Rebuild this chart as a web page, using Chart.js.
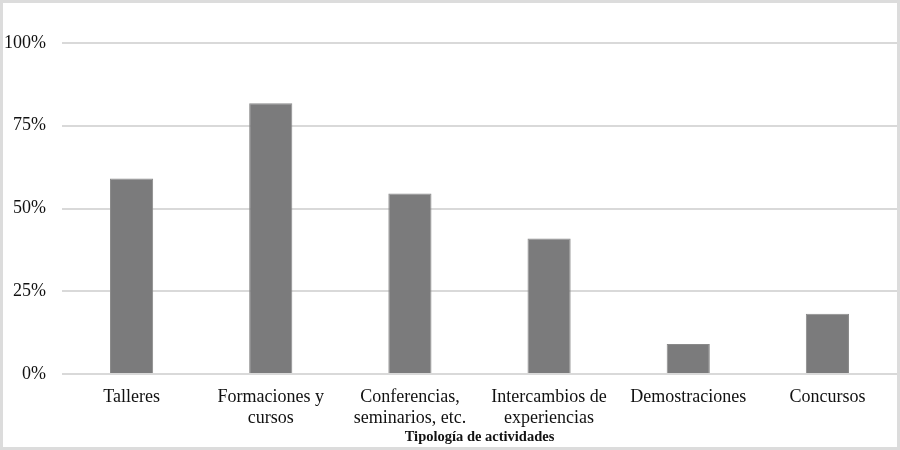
<!DOCTYPE html>
<html>
<head>
<meta charset="utf-8">
<script src="https://cdn.jsdelivr.net/npm/chart.js@4/dist/chart.umd.min.js"></script>
<style>
    html, body {
        margin: 0;
        padding: 0;
        background: #ffffff;
    }
    #wrap {
        width: 900px;
        height: 450px;
        box-sizing: border-box;
        border: 3px solid #dcdcdc;
        background: #ffffff;
    }
</style>
</head>
<body>
<div id="wrap">
    <canvas id="myChart" width="894" height="444"></canvas>
</div>
<script>
// datos
const categorias = [
    'Talleres',
    ['Formaciones y', 'cursos'],
    ['Conferencias,', 'seminarios, etc.'],
    ['Intercambios de', 'experiencias'],
    'Demostraciones',
    'Concursos',
];
const porcentajes = [59.1, 81.8, 54.5, 40.9, 9.1, 18.2];
const ticksY = [0, 25, 50, 75, 100];

const fuente = "'Liberation Serif', 'DejaVu Serif', serif";

const data_bar = {
    labels: categorias,
    datasets: [
        {
            label: 'Tipología de actividades',
            data: porcentajes,
            backgroundColor: '#7b7b7c',
            borderColor: '#8a8a8a',
            borderWidth: 1,
            barPercentage: 0.31,
            categoryPercentage: 1,
        },
    ],
};

const options_bar = {
    responsive: false,
    maintainAspectRatio: false,
    animation: false,
    layout: {
        padding: { left: 2, right: 0, top: 40, bottom: 1 },
    },
    plugins: {
        legend: { display: false },
        tooltip: { enabled: false },
    },
    scales: {
        x: {
            afterFit: (scale) => {
                scale.height = 72; // eje + etiquetas + título
            },
            grid: { display: false, drawTicks: false, tickLength: 0 },
            border: { display: false },
            ticks: {
                color: '#111111',
                font: { family: fuente, size: 18, lineHeight: 1.15 },
                padding: 13,
                maxRotation: 0,
                autoSkip: false,
            },
            title: {
                display: true,
                text: 'Tipología de actividades',
                color: '#111111',
                font: { family: fuente, size: 14.5, weight: 'bold' },
                padding: { top: 0, bottom: 0 },
            },
        },
        y: {
            min: 0,
            max: 100,
            afterFit: (scale) => {
                scale.width = 57;
            },
            afterBuildTicks: (axis) => {
                axis.ticks = ticksY.map((v) => ({ value: v }));
            },
            grid: {
                color: '#d9d9d9',
                lineWidth: 2,
                drawTicks: false,
            },
            border: { display: false },
            ticks: {
                color: '#111111',
                font: { family: fuente, size: 18 },
                padding: 16,
                callback: (v) => v + '%',
            },
        },
    },
};

const ctx_bar = document.getElementById('myChart').getContext('2d');
const myChart_bar = new Chart(ctx_bar, {
    type: 'bar',
    data: data_bar,
    options: options_bar,
});
</script>
</body>
</html>
